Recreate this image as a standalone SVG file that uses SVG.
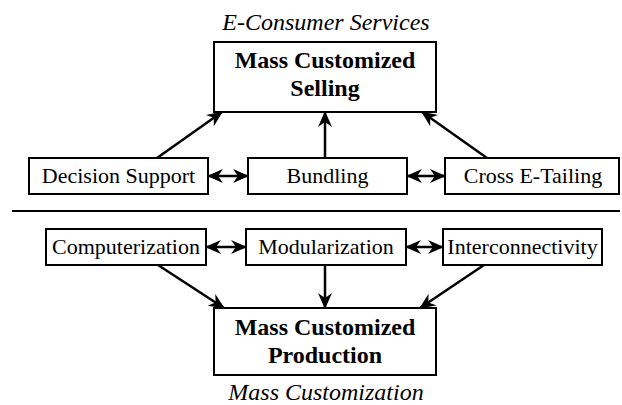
<svg xmlns="http://www.w3.org/2000/svg" width="622" height="405" viewBox="0 0 622 405">
  <defs>
    <marker id="head" viewBox="0 0 16 14" refX="15" refY="7" markerWidth="16" markerHeight="14" markerUnits="userSpaceOnUse" orient="auto">
      <path d="M0,0 L16,7 L0,14 L5,7 z" fill="#000"/>
    </marker>
    <marker id="tail" viewBox="0 0 16 14" refX="1" refY="7" markerWidth="16" markerHeight="14" markerUnits="userSpaceOnUse" orient="auto">
      <path d="M16,0 L0,7 L16,14 L11,7 z" fill="#000"/>
    </marker>
  </defs>
  <style>
    .box { fill: #fff; stroke: #000; stroke-width: 2; }
    .main { font-size: 24px; font-weight: bold; }
    .item { font-size: 22px; }
    .caption { font-size: 24px; font-style: italic; }
    .link { stroke: #000; stroke-width: 2.5; fill: none; }
    .rule { stroke: #000; stroke-width: 2; }
  </style>
  <rect width="622" height="405" fill="#fff"/>

  <!-- section captions and divider -->
  <g font-family="Liberation Serif, Times New Roman, serif" text-anchor="middle" fill="#000">
    <text class="caption" x="326" y="30">E-Consumer Services</text>
    <text class="caption" x="326" y="400">Mass Customization</text>
  </g>
  <line class="rule" x1="12" y1="211" x2="620" y2="211"/>

  <!-- connectors -->
  <g id="connectors" class="link">
    <line x1="157" y1="158" x2="222" y2="112" marker-end="url(#head)"/>
    <line x1="325" y1="158" x2="325" y2="112" marker-end="url(#head)"/>
    <line x1="487" y1="158" x2="422" y2="112" marker-end="url(#head)"/>
    <line x1="208" y1="176" x2="248" y2="176" marker-start="url(#tail)" marker-end="url(#head)"/>
    <line x1="407" y1="176" x2="445" y2="176" marker-start="url(#tail)" marker-end="url(#head)"/>
    <line x1="206" y1="247" x2="246" y2="247" marker-start="url(#tail)" marker-end="url(#head)"/>
    <line x1="406" y1="247" x2="443" y2="247" marker-start="url(#tail)" marker-end="url(#head)"/>
    <line x1="158" y1="265" x2="224" y2="308" marker-end="url(#head)"/>
    <line x1="325" y1="265" x2="325" y2="308" marker-end="url(#head)"/>
    <line x1="484" y1="265" x2="420" y2="308" marker-end="url(#head)"/>
  </g>

  <g font-family="Liberation Serif, Times New Roman, serif" text-anchor="middle" fill="#000">
    <!-- selling side -->
    <g id="mass-customized-selling">
      <rect class="box" x="214" y="42" width="222" height="70"/>
      <text class="main" x="325" y="68">Mass Customized</text>
      <text class="main" x="325" y="96">Selling</text>
    </g>
    <g id="decision-support">
      <rect class="box" x="29" y="158" width="179" height="36"/>
      <text class="item" x="118.5" y="183">Decision Support</text>
    </g>
    <g id="bundling">
      <rect class="box" x="248" y="158" width="159" height="36"/>
      <text class="item" x="327.5" y="183">Bundling</text>
    </g>
    <g id="cross-e-tailing">
      <rect class="box" x="445" y="158" width="174" height="36"/>
      <text class="item" x="533" y="183">Cross E-Tailing</text>
    </g>

    <!-- production side -->
    <g id="computerization">
      <rect class="box" x="46" y="229" width="160" height="36"/>
      <text class="item" x="126" y="254">Computerization</text>
    </g>
    <g id="modularization">
      <rect class="box" x="246" y="229" width="160" height="36"/>
      <text class="item" x="326" y="254">Modularization</text>
    </g>
    <g id="interconnectivity">
      <rect class="box" x="443" y="229" width="159" height="36"/>
      <text class="item" x="522.5" y="254">Interconnectivity</text>
    </g>
    <g id="mass-customized-production">
      <rect class="box" x="214" y="308" width="222" height="67"/>
      <text class="main" x="325" y="335">Mass Customized</text>
      <text class="main" x="325" y="363">Production</text>
    </g>
  </g>
</svg>
